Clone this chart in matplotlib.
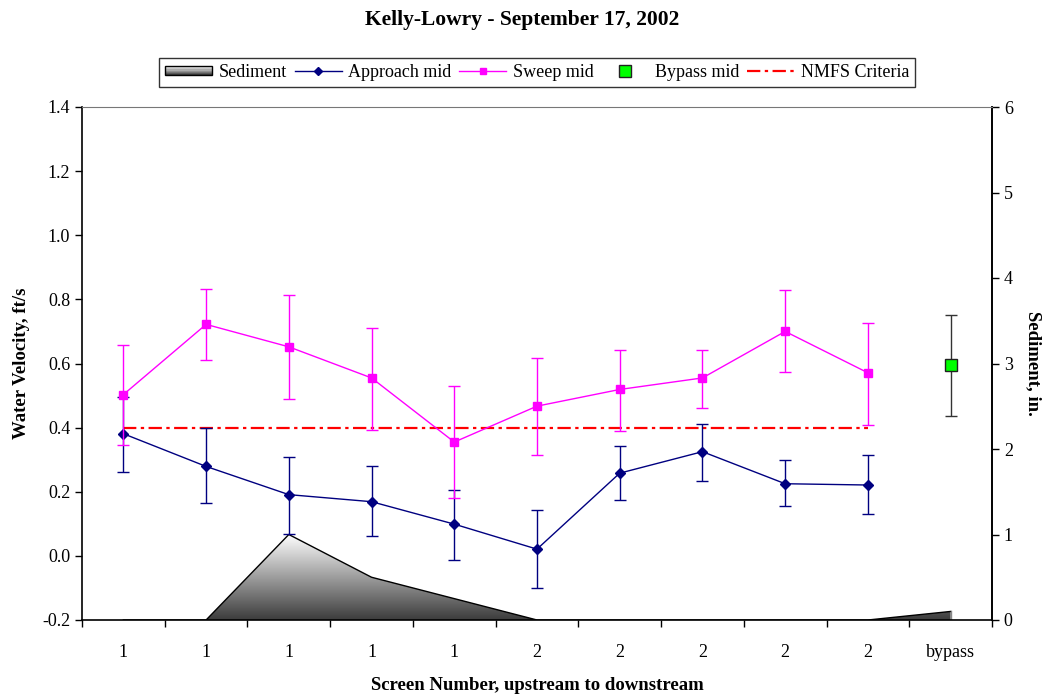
import numpy as np
import matplotlib
matplotlib.use("Agg")
import matplotlib.pyplot as plt
from matplotlib.patches import Polygon, Rectangle
from matplotlib.lines import Line2D
from matplotlib.legend_handler import HandlerBase
from matplotlib.colors import LinearSegmentedColormap

plt.rcParams['font.family'] = ['Liberation Serif', 'DejaVu Serif']

categories = ["1", "1", "1", "1", "1", "2", "2", "2", "2", "2", "bypass"]
sediment = [0, 0, 1.0, 0.5, 0.25, 0, 0, 0, 0, 0, 0.1]

approach = [0.381, 0.279, 0.191, 0.169, 0.099, 0.021, 0.258, 0.325, 0.225, 0.221]
approach_hi = [0.496, 0.399, 0.309, 0.279, 0.206, 0.144, 0.344, 0.412, 0.298, 0.314]
approach_lo = [0.262, 0.166, 0.069, 0.063, -0.012, -0.101, 0.173, 0.232, 0.154, 0.131]

sweep = [0.503, 0.722, 0.652, 0.555, 0.355, 0.467, 0.519, 0.555, 0.700, 0.571]
sweep_hi = [0.657, 0.831, 0.814, 0.712, 0.531, 0.617, 0.643, 0.643, 0.828, 0.727]
sweep_lo = [0.347, 0.610, 0.488, 0.394, 0.180, 0.314, 0.390, 0.462, 0.572, 0.409]

bypass = [0.594]
bypass_hi = [0.751]
bypass_lo = [0.435]

nmfs = [0.4] * 10

fig = plt.figure(figsize=(10.45, 6.96), dpi=100)
ax = fig.add_axes([82 / 1045, 1 - 620 / 696, 910 / 1045, 513 / 696])
ax2 = ax.twinx()

x = np.arange(len(categories))
xs = x[:10]

# Sediment (right axis) with gradient fill
ax2.set_ylim(0, 6)
ax.set_xlim(-0.5, 10.5)
poly_pts = [(0, 0)] + list(zip(x, sediment)) + [(x[-1], 0)]
poly = Polygon(poly_pts, closed=True, facecolor='none', edgecolor='none')
ax2.add_patch(poly)
cmap = LinearSegmentedColormap.from_list('sed', ['#3c3c3c', '#ffffff'])
grad = np.linspace(0, 1, 256).reshape(-1, 1)
im = ax2.imshow(grad, extent=[0, 10, 0, max(sediment)], origin='lower', cmap=cmap,
                aspect='auto', zorder=1)
im.set_clip_path(poly)
ax2.plot(x, sediment, color='black', lw=1.0, zorder=2)
ax2.plot([x[-1], x[-1]], [0, sediment[-1]], color='#888888', lw=1.0, zorder=2)
ax2.set_xlim(-0.5, 10.5)

# Main axis
ax.set_zorder(ax2.get_zorder() + 1)
ax.patch.set_visible(False)
ax.set_ylim(-0.2, 1.4)
yt = np.arange(-0.2, 1.41, 0.2)
ax.set_yticks(yt)
ax.set_yticklabels([f"{v:.1f}" for v in yt])

navy = '#000080'
mag = '#FF00FF'

ax.plot(xs, nmfs, color='#FF0000', lw=1.6, linestyle=(0, (6, 2, 1.5, 2)), zorder=3)

ax.errorbar(xs, approach,
            yerr=[np.array(approach) - np.array(approach_lo), np.array(approach_hi) - np.array(approach)],
            color=navy, lw=1.0, marker='D', markersize=5, capsize=4, elinewidth=1.0, zorder=4)
ax.errorbar(xs, sweep,
            yerr=[np.array(sweep) - np.array(sweep_lo), np.array(sweep_hi) - np.array(sweep)],
            color=mag, lw=1.0, marker='s', markersize=6, capsize=4, elinewidth=1.0, zorder=5)
ax.errorbar([x[-1]], bypass,
            yerr=[np.array(bypass) - np.array(bypass_lo), np.array(bypass_hi) - np.array(bypass)],
            color='#333333', lw=0, marker='s', markersize=9, markerfacecolor='#00FF00',
            markeredgecolor='#222222', capsize=4, elinewidth=1.0, zorder=5)

# Ticks
ax.set_xticks(x)
ax.set_xticklabels(categories)
ax.tick_params(axis='x', length=0, pad=17, labelsize=13)
ax.set_xticks(np.arange(-0.5, 10.6, 1), minor=True)
ax.tick_params(axis='x', which='minor', length=5, direction='out', width=1)
ax.tick_params(axis='y', length=5, direction='out', labelsize=13, width=1)
ax2.tick_params(axis='y', length=5, direction='out', labelsize=13, width=1)
ax2.set_yticks(range(0, 7))

for sp in ['left', 'right', 'bottom']:
    ax.spines[sp].set_linewidth(1.2)
ax.spines['top'].set_color('#777777')
ax.spines['top'].set_linewidth(0.8)
for sp in ax2.spines.values():
    sp.set_visible(False)
ax2.spines['right'].set_visible(True)
ax2.spines['right'].set_linewidth(1.2)

ax.set_ylabel("Water Velocity, ft/s", fontsize=13.5, fontweight='bold', labelpad=9)
ax2.set_ylabel("Sediment, in.", fontsize=13.5, fontweight='bold', rotation=-90, labelpad=21)
fig.text(537 / 1045, 1 - 685 / 696, "Screen Number, upstream to downstream", ha='center',
         va='center', fontsize=13.5, fontweight='bold')
fig.text(0.5, 1 - 20 / 696, "Kelly-Lowry - September 17, 2002", ha='center', va='center',
         fontsize=15.5, fontweight='bold')


class GradientHandler(HandlerBase):
    def create_artists(self, legend, orig_handle, xdescent, ydescent, width, height, fontsize, trans):
        arts = []
        n = 8
        h = height * 0.75
        y0 = -ydescent + (height - h) / 2
        for i in range(n):
            c = cmap(1 - i / (n - 1))
            r = Rectangle((-xdescent, y0 + h * (1 - (i + 1) / n)), width, h / n,
                          facecolor=c, edgecolor='none', transform=trans)
            arts.append(r)
        arts.append(Rectangle((-xdescent, y0), width, h, facecolor='none',
                              edgecolor='black', lw=1.0, transform=trans))
        return arts


sed_handle = Rectangle((0, 0), 1, 1)
h_app = Line2D([], [], color=navy, lw=1.0, marker='D', markersize=4)
h_sw = Line2D([], [], color=mag, lw=1.0, marker='s', markersize=5)
h_by = Line2D([], [], color='none', marker='s', markersize=8, markerfacecolor='#00FF00',
              markeredgecolor='#222222')
h_nm = Line2D([], [], color='#FF0000', lw=1.6, linestyle=(0, (6, 2, 1.5, 2)))
leg = fig.legend([sed_handle, h_app, h_sw, h_by, h_nm],
                 ["Sediment", "Approach mid", "Sweep mid", "Bypass mid", "NMFS Criteria"],
                 handler_map={Rectangle: GradientHandler()},
                 loc='center', bbox_to_anchor=(537 / 1045, 1 - 72.5 / 696), ncol=5,
                 frameon=True, fancybox=False, edgecolor='black', fontsize=13,
                 handlelength=2.6, handletextpad=0.35, columnspacing=0.45, borderpad=0.35)
leg.get_frame().set_linewidth(1.0)

fig.savefig("out.png", dpi=100)
